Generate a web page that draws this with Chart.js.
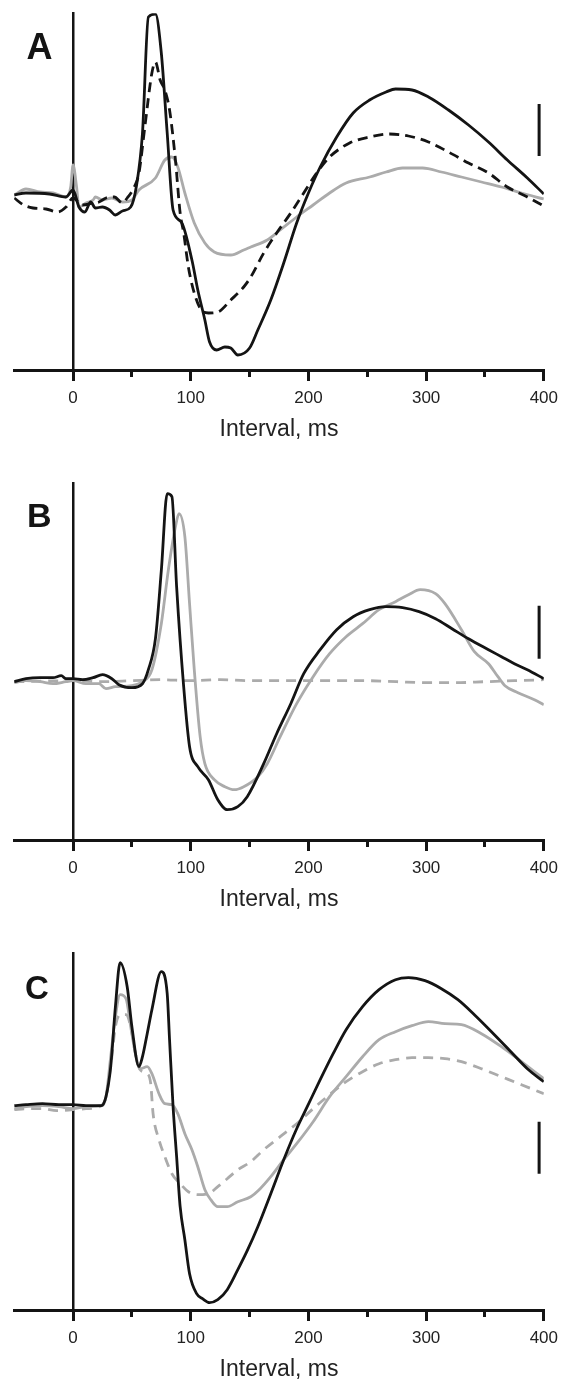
<!DOCTYPE html>
<html>
<head>
<meta charset="utf-8">
<script src="https://cdn.jsdelivr.net/npm/chart.js@4.4.1/dist/chart.umd.min.js"></script>
<style>
html, body { margin: 0; padding: 0; background: #fff; overflow: hidden; }
.panel { position: absolute; left: 0; width: 565px; height: 470px; }
</style>
</head>
<body>
<div class="panel" style="top:0px"><canvas id="chartA"></canvas></div>
<div class="panel" style="top:470px"><canvas id="chartB"></canvas></div>
<div class="panel" style="top:940px"><canvas id="chartC"></canvas></div>
<script>
// x axis (ms)
const xTicks = [0, 100, 200, 300, 400];
const xMinorTicks = [50, 150, 250, 350];

// panel A
const aBlackT = [-50, -40, -20, -6, 0, 5, 10, 15, 19, 25, 31, 36, 42, 49, 54, 59, 64, 70, 75, 80, 85, 92, 101, 106, 112, 116, 122, 129, 134, 140, 150, 157, 168, 179, 190, 200, 210, 224, 238, 252, 266, 274, 288, 302, 319, 336, 353, 369, 386, 400];
const aBlackV = [0, 0.2, 0.1, -0.2, 0.5, -1.2, -1.7, -0.7, -1.3, -1.2, -1.5, -2.0, -1.6, -1.2, 1.0, 6.2, 17.8, 18.1, 14.2, 6.2, -1.5, -2.7, -6.5, -9.5, -12.5, -14.7, -15.5, -15.2, -15.3, -16.0, -15.3, -13.5, -10.5, -6.8, -2.8, 0.2, 2.8, 5.8, 8.2, 9.5, 10.3, 10.6, 10.5, 9.8, 8.5, 7.0, 5.3, 3.5, 1.7, 0.1];
const aDashT = [-50, -42, -34, -23, -13, -6, 0, 8, 17, 22, 28, 35, 42, 46, 52, 56, 61, 67, 70, 74, 78, 82, 87, 91, 94, 98, 103, 109, 115, 123, 134, 145, 151, 162, 173, 185, 196, 207, 218, 235, 252, 269, 285, 302, 319, 336, 353, 369, 386, 400];
const aDashV = [-0.3, -1.0, -1.3, -1.4, -1.7, -1.2, -0.3, -1.0, -0.8, -0.7, -0.3, -0.2, -0.8, -0.3, 0.8, 2.2, 6.8, 12.2, 13.3, 11.5, 10.5, 8.5, 3.5, -1.8, -3.8, -7.2, -9.8, -11.5, -11.8, -11.7, -10.5, -9.2, -8.2, -5.8, -3.8, -1.8, 0.2, 2.2, 3.8, 5.2, 5.8, 6.1, 5.9, 5.3, 4.3, 3.2, 2.2, 0.8, -0.2, -1.1];
const aGrayT = [-50, -40, -28, -17, -6, -2, 0, 3, 5, 11, 17, 19, 25, 33, 42, 50, 56, 70, 78, 84, 89, 95, 103, 112, 120, 134, 145, 151, 165, 176, 190, 204, 218, 232, 252, 266, 280, 297, 313, 330, 347, 364, 381, 400];
const aGrayV = [0, 0.6, 0.3, 0.2, -0.2, 0.8, 3.0, 0.8, -1.2, -0.8, -0.5, -0.2, -0.5, -0.3, -0.7, -0.5, 0.5, 1.7, 3.5, 3.8, 2.8, 0.2, -2.8, -4.8, -5.7, -6.0, -5.5, -5.2, -4.5, -3.5, -2.2, -1.0, 0.2, 1.2, 1.8, 2.3, 2.7, 2.7, 2.3, 1.8, 1.3, 0.8, 0.2, -0.4];
const aRange = [-17.5, 18.17];
const aBar = [9.1, 3.9];

// panel B
const bBlackT = [-50, -40, -28, -17, -10, -6, 0, 8, 17, 25, 33, 39, 50, 59, 64, 70, 75, 80, 84, 88, 94, 99, 106, 115, 123, 131, 140, 148, 162, 173, 185, 196, 210, 224, 238, 252, 266, 280, 294, 308, 322, 336, 353, 364, 375, 386, 400];
const bBlackV = [-0.1, 0.2, 0.3, 0.3, 0.5, 0.2, 0.2, 0.1, 0.3, 0.6, 0.2, -0.4, -0.7, -0.3, 1.1, 4.2, 11.0, 18.7, 18.4, 9.4, -0.6, -6.6, -8.6, -9.9, -11.9, -12.9, -12.6, -11.6, -8.3, -5.3, -2.3, 0.7, 3.1, 5.1, 6.4, 7.1, 7.4, 7.3, 6.9, 6.2, 5.2, 4.2, 3.1, 2.4, 1.7, 1.1, 0.2];
const bGrayT = [-50, -40, -28, -17, -6, 0, 11, 22, 28, 36, 50, 59, 67, 75, 81, 87, 90, 95, 99, 103, 108, 112, 120, 129, 137, 145, 157, 165, 176, 190, 204, 218, 232, 246, 260, 274, 285, 295, 308, 316, 330, 341, 353, 361, 367, 378, 392, 400];
const bGrayV = [-0.2, 0, -0.1, -0.3, -0.1, 0, -0.3, -0.3, -0.8, -0.6, -0.5, -0.1, 1.1, 5.7, 11.1, 15.4, 16.7, 14.4, 7.7, 1.1, -5.6, -8.3, -9.9, -10.6, -10.9, -10.6, -9.6, -8.3, -5.6, -2.3, 0.4, 2.7, 4.4, 5.7, 7.1, 7.9, 8.6, 9.1, 8.7, 7.7, 5.1, 2.9, 1.7, 0.4, -0.5, -1.2, -1.9, -2.4];
const bDashT = [-50, 0, 25, 50, 75, 100, 125, 150, 175, 200, 225, 250, 275, 300, 325, 350, 375, 400];
const bDashV = [-0.1, 0, -0.1, 0, 0.1, 0, 0.1, 0, 0, 0, 0, 0, -0.1, -0.2, -0.2, -0.1, 0, 0.1];
const bRange = [-15.93, 19.74];
const bBar = [7.5, 2.2];

// panel C
const cBlackT = [-50, -40, -26, -12, 0, 11, 24, 28, 32, 36, 40, 46, 50, 56, 59, 63, 67, 75, 80, 82, 85, 88, 91, 95, 99, 105, 110, 116, 123, 131, 140, 148, 157, 168, 179, 190, 199, 210, 221, 232, 246, 260, 274, 285, 299, 313, 327, 341, 358, 372, 386, 400];
const cBlackV = [0, 0.1, 0.2, 0.1, 0.1, 0, 0, 0.9, 3.9, 9.9, 14.3, 11.9, 7.9, 3.9, 4.9, 7.2, 9.6, 13.4, 11.2, 6.6, -0.1, -5.1, -10.1, -13.4, -16.8, -18.8, -19.3, -19.7, -19.4, -18.4, -16.4, -14.5, -12.1, -8.8, -5.4, -2.3, -0.1, 2.6, 5.2, 7.6, 9.9, 11.6, 12.6, 12.8, 12.5, 11.7, 10.6, 9.1, 7.1, 5.4, 3.7, 2.4];
const cGrayT = [-50, -40, -26, -12, 0, 11, 24, 28, 32, 36, 40, 45, 49, 53, 57, 63, 67, 73, 78, 84, 89, 95, 101, 106, 112, 117, 123, 131, 140, 151, 159, 168, 179, 190, 204, 218, 232, 246, 260, 274, 288, 302, 316, 330, 347, 364, 381, 400];
const cGrayV = [-0.3, -0.1, 0, -0.1, -0.3, -0.1, 0, 0.9, 4.9, 8.9, 11.1, 10.7, 7.9, 5.2, 3.7, 3.9, 3.2, 1.2, 0.2, 0.1, -0.8, -2.8, -4.4, -6.1, -8.4, -9.4, -10.1, -10.1, -9.6, -9.1, -8.3, -7.1, -5.4, -3.8, -1.6, 0.9, 2.9, 4.9, 6.6, 7.4, 8.0, 8.4, 8.2, 8.1, 7.2, 5.9, 4.4, 2.7];
const cDashT = [-50, -40, -26, -14, 0, 11, 24, 28, 32, 36, 40, 45, 49, 53, 57, 63, 66, 68, 73, 78, 84, 91, 98, 106, 115, 123, 131, 140, 151, 162, 176, 190, 204, 218, 232, 246, 260, 274, 288, 302, 316, 330, 347, 364, 381, 400];
const cDashV = [-0.4, -0.3, -0.3, -0.5, -0.4, -0.3, 0, 0.9, 3.9, 7.9, 9.1, 9.1, 7.9, 5.2, 3.6, 3.2, 2.2, -0.8, -3.4, -5.1, -6.8, -7.8, -8.6, -8.9, -8.8, -8.1, -7.3, -6.4, -5.6, -4.4, -3.1, -1.8, -0.3, 1.1, 2.4, 3.4, 4.2, 4.6, 4.8, 4.8, 4.7, 4.4, 3.7, 2.9, 2.1, 1.2];
const cRange = [-20.43, 15.24];
const cBar = [-1.6, -6.8];

const scaleBarT = [396, 396];

const black = '#141414';
const grey = '#ababab';
const fontFamily = '"Liberation Sans", Arial, Helvetica, sans-serif';
Chart.defaults.font.family = fontFamily;

function pts(t, v) {
    return t.map((x, i) => ({ x: x, y: v[i] }));
}

function trace(t, v, color, dash, width) {
    return {
        data: pts(t, v),
        borderColor: color,
        borderWidth: width || 2.8,
        borderDash: dash || [],
        pointRadius: 0,
        cubicInterpolationMode: 'monotone',
        fill: false,
        xAxisID: 'x',
        yAxisID: 'y'
    };
}

// big panel letter (A, B, C)
const letterPlugin = {
    id: 'letter',
    afterDraw(chart, args, opts) {
        const ctx = chart.ctx;
        ctx.save();
        ctx.font = 'bold ' + opts.size + 'px ' + fontFamily;
        ctx.fillStyle = black;
        ctx.textBaseline = 'alphabetic';
        ctx.fillText(opts.text, opts.x, opts.y);
        ctx.restore();
    }
};

function makePanel(id, letter, datasets, range) {
    return new Chart(document.getElementById(id), {
        type: 'line',
        data: { datasets: datasets },
        options: {
            responsive: true,
            maintainAspectRatio: false,
            animation: false,
            layout: { padding: { left: 14.2, right: 15.3, top: 13.3, bottom: 0 } },
            plugins: {
                legend: { display: false },
                tooltip: { enabled: false },
                letter: letter
            },
            scales: {
                x: {
                    type: 'linear',
                    axis: 'x',
                    min: -50,
                    max: 400,
                    position: 'bottom',
                    afterBuildTicks: s => { s.ticks = xTicks.map(v => ({ value: v })); },
                    afterFit: s => { s.height = 100; },
                    grid: { drawOnChartArea: false, tickLength: 11, lineWidth: 3, color: black },
                    border: { display: true, width: 3, color: black },
                    ticks: { color: '#222', padding: 7, maxRotation: 0, font: { size: 17 } },
                    title: {
                        display: true,
                        text: 'Interval, ms',
                        color: '#222',
                        font: { size: 23 },
                        padding: { top: 0, bottom: 27 }
                    }
                },
                xMinor: {
                    type: 'linear',
                    axis: 'x',
                    min: -50,
                    max: 400,
                    position: { y: range[0] },
                    afterBuildTicks: s => { s.ticks = xMinorTicks.map(v => ({ value: v })); },
                    grid: { drawOnChartArea: false, tickLength: 7, lineWidth: 3, color: black },
                    border: { display: false },
                    ticks: { display: false }
                },
                y: {
                    type: 'linear',
                    axis: 'y',
                    min: range[0],
                    max: range[1],
                    position: { x: 0 },
                    grid: { display: false },
                    border: { display: true, width: 2.5, color: black },
                    ticks: { display: false }
                }
            }
        },
        plugins: [letterPlugin]
    });
}

makePanel('chartA', { text: 'A', x: 26.5, y: 59.3, size: 36 }, [
    trace(aBlackT, aBlackV, black),
    trace(aDashT, aDashV, black, [10, 6]),
    trace(aGrayT, aGrayV, grey),
    trace(scaleBarT, aBar, black, [], 3)
], aRange);

makePanel('chartB', { text: 'B', x: 27, y: 56.7, size: 34 }, [
    trace(bBlackT, bBlackV, black),
    trace(bGrayT, bGrayV, grey),
    trace(bDashT, bDashV, grey, [10, 7]),
    trace(scaleBarT, bBar, black, [], 3)
], bRange);

makePanel('chartC', { text: 'C', x: 25, y: 58.8, size: 33 }, [
    trace(cBlackT, cBlackV, black),
    trace(cGrayT, cGrayV, grey),
    trace(cDashT, cDashV, grey, [10, 7]),
    trace(scaleBarT, cBar, black, [], 3)
], cRange);
</script>
</body>
</html>
